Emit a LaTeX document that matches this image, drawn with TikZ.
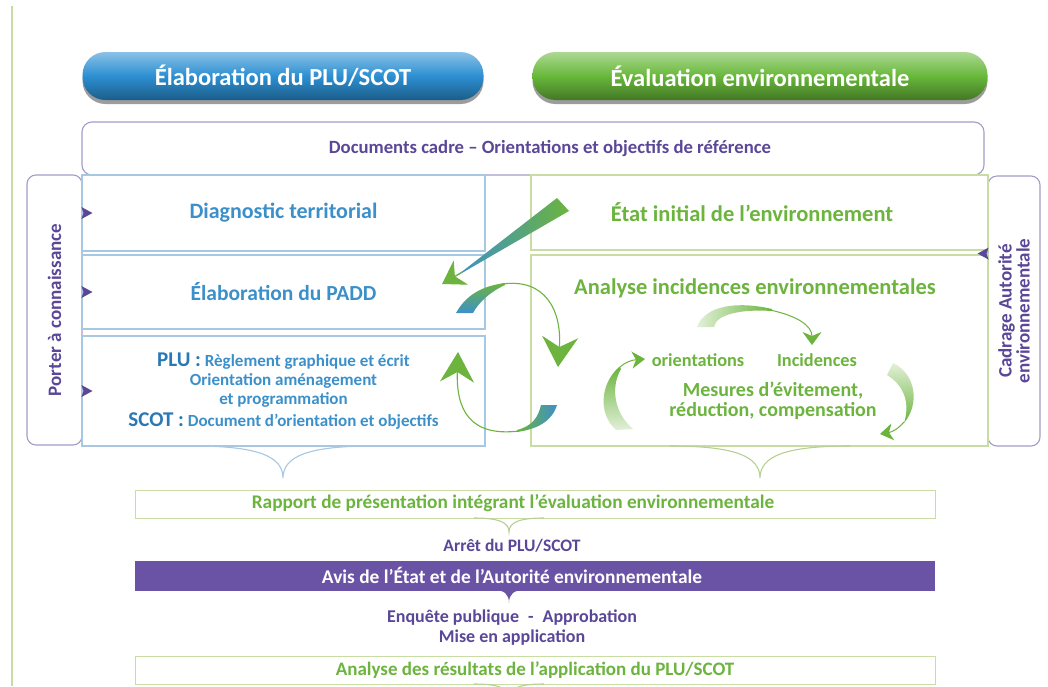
\documentclass[tikz,border=0pt]{standalone}
\usepackage{fontspec}
\setmainfont{Carlito}
\usetikzlibrary{shadows,arrows.meta}

\definecolor{hdblue}{HTML}{2C8FD2}
\definecolor{hdgreen}{HTML}{68B83A}
\definecolor{plublue}{HTML}{3C90CA}
\definecolor{darkblue}{HTML}{2A78B4}
\definecolor{boxblue}{HTML}{A6C8E2}
\definecolor{evgreen}{HTML}{6CB43E}
\definecolor{boxgreen}{HTML}{C9DCA4}
\definecolor{bracegreen}{HTML}{B8D094}
\definecolor{purp}{HTML}{5A4798}
\definecolor{purpline}{HTML}{A39CC8}
\definecolor{barpurp}{HTML}{6A52A5}

\def\Brace#1#2#3#4#5{
    \draw[#5, line width=1.1pt] (#1-#3,#2) .. controls (#1-0.3*#3,#2) and (#1,#2+0.3*#4) .. (#1,#2+#4)
        .. controls (#1,#2+0.3*#4) and (#1+0.3*#3,#2) .. (#1+#3,#2);
}

\tikzset{
    fs/.style n args={2}{font=\fontsize{#1}{#2}\selectfont\bfseries},
    header/.style={rounded corners=23pt, minimum height=48pt, text=white, fs={24.5}{28},
        drop shadow={shadow xshift=0pt, shadow yshift=-4pt, fill=black!70, opacity=.55}},
    lbox/.style={draw=boxblue, line width=1.1pt, minimum width=403pt, inner sep=0pt, text=plublue},
    rbox/.style={draw=boxgreen, line width=1.1pt, minimum width=457pt, inner sep=0pt, text=evgreen},
    side/.style={draw=purpline, line width=1.1pt, rounded corners=9pt, rotate=90,
        minimum width=270pt, text=purp, align=center},
    lowbox/.style={draw=boxgreen, line width=1pt, minimum width=800pt, minimum height=28pt},
    swoosh/.style={draw=evgreen, line width=1.1pt},
}

\begin{document}
\begin{tikzpicture}[x=1pt,y=-1pt]
    \useasboundingbox[fill=white] (0,0) rectangle (1048,686);
    \draw[boxgreen, line width=1.5pt] (12,6) -- (12,686);

    \node[header, minimum width=401pt, top color=hdblue!55!white, bottom color=hdblue!65!black, middle color=hdblue] (hplu) at (283,76) {Élaboration du PLU/SCOT};
    \node[header, minimum width=455pt, top color=hdgreen!55!white, bottom color=hdgreen!65!black, middle color=hdgreen] (heval) at (760,76) {Évaluation environnementale};

    \node[draw=purpline, line width=1.1pt, rounded corners=10pt, minimum width=902pt, minimum height=53pt] (docs) at (533,148.5) {};
    \node[text=purp, fs={18.7}{22}] (docstxt) at (550,148) {Documents cadre – Orientations et objectifs de référence};

    \node[side, minimum height=55pt, fs={19}{22}] (pac) at (54.5,310) {Porter à connaissance};
    \node[side, minimum height=52pt, fs={19}{18}] (cadrage) at (1014,311) {Cadrage Autorité\\environnementale};

    \node[lbox, minimum height=76pt, fs={22}{26}] (diag) at (283.5,213) {Diagnostic territorial};
    \node[lbox, minimum height=74pt, fs={21.5}{26}] (padd) at (283.5,292) {Élaboration du PADD};
    \node[lbox, minimum height=110pt, fs={17}{19}, align=center] (plu) at (283.5,391) {{\color{darkblue}\fontsize{21}{19}\selectfont PLU :} Règlement graphique et écrit\\Orientation aménagement\\et programmation\\[3pt]{\color{darkblue}\fontsize{21}{19}\selectfont SCOT :} Document d’orientation et objectifs};

    \node[rbox, minimum height=75pt] (etat) at (759.5,212.5) {};
    \node[text=evgreen, fs={22.5}{26}] (etattxt) at (752,212) {État initial de l’environnement};
    \node[rbox, minimum height=191pt] (analyse) at (759.5,350.5) {};
    \node[text=evgreen, fs={22.5}{26}] (atitle) at (755,288) {Analyse incidences environnementales};
    \node[text=evgreen, fs={18.3}{21}] (orient) at (698,360) {orientations};
    \node[text=evgreen, fs={18.3}{21}] (incid) at (817,360) {Incidences};
    \node[text=evgreen, fs={20}{19.5}, align=center] (mesures) at (773,401) {Mesures d’évitement,\\réduction, compensation};

    \foreach \n in {diag,padd,plu}
        \fill[purp, shift={(\n.west)}] (0,-6) -- (11,0) -- (0,6) -- (2,0) -- cycle;
    \fill[purp, shift={(etat.south east)}] (0,-3) -- (-11,3) -- (0,9) -- (-2,3) -- cycle;

    \Brace{283}{446}{90}{32}{boxblue}
    \Brace{760}{446}{90}{32}{bracegreen}

    % central swooshes
    \shade[left color=plublue, right color=evgreen] (455,277) -- (557,198) -- (569,211) -- cycle;
    \draw[swoosh, -{Stealth[length=22pt,width=28pt,inset=7pt]}] (462,272) -- (442,284);

    \shade[bottom color=plublue, top color=evgreen] (456,313) .. controls (466,295) and (482,286) .. (505,283) -- (505,285) .. controls (490,292) and (479,302) .. (473,313) -- cycle;
    \draw[swoosh, -{Stealth[length=30pt,width=36pt,inset=10pt]}] (502,284) .. controls (545,278) and (562,310) .. (558,367);

    \shade[right color=plublue, left color=evgreen] (557,405) .. controls (552,421) and (538,429) .. (517,432) -- (517,430) .. controls (532,426) and (538,418) .. (541,405) -- cycle;
    \draw[swoosh, -{Stealth[length=30pt,width=34pt,inset=10pt]}] (519,431) .. controls (470,437) and (456,410) .. (458,352);

    % cycle in the analysis box
    \shade[left color=evgreen!20, right color=evgreen] (697,327) .. controls (705,305) and (738,301) .. (772,309) -- (772,311) .. controls (742,309) and (716,314) .. (714,327) -- cycle;
    \draw[swoosh, line width=1pt, -{Stealth[length=13pt,width=19pt,inset=4pt]}] (770,310) .. controls (798,316) and (812,326) .. (812,345);
    \shade[bottom color=evgreen!20, top color=evgreen] (616,430) .. controls (598,414) and (600,384) .. (619,367) -- (621,369) .. controls (611,386) and (613,412) .. (633,429) -- cycle;
    \draw[swoosh, line width=1pt, -{Stealth[length=13pt,width=17pt,inset=4pt]}] (619,368) .. controls (625,362) and (632,360) .. (645,359);
    \shade[top color=evgreen!20, bottom color=evgreen] (893,363) .. controls (916,374) and (920,404) .. (904,423) .. controls (910,404) and (905,386) .. (887,375) -- cycle;
    \draw[swoosh, line width=1pt, -{Stealth[length=13pt,width=17pt,inset=4pt]}] (904,422) .. controls (898,429) and (892,432) .. (880,434);

    % lower part
    \node[lowbox] (rapport) at (535,504) {};
    \node[text=evgreen, fs={19.3}{22}] (rapporttxt) at (513,503) {Rapport de présentation intégrant l’évaluation environnementale};
    \Brace{509}{518}{35}{14}{bracegreen}
    \node[text=purp, fs={17.5}{20}] (arret) at (512,546) {Arrêt du PLU/SCOT};
    \node[fill=barpurp, minimum width=800pt, minimum height=30pt] (avis) at (535,576) {};
    \node[text=white, fs={19.4}{22}] (avistxt) at (512,575) {Avis de l’État et de l’Autorité environnementale};
    \fill[barpurp] (494,590) .. controls (504,590) and (509,594) .. (509,603) .. controls (509,594) and (514,590) .. (524,590) -- cycle;
    \node[text=purp, fs={18}{20}, align=center] (enquete) at (512,628) {Enquête publique\enspace -\enspace Approbation\\Mise en application};
    \node[lowbox, text=evgreen, fs={19}{22}] (resultats) at (535,670) {Analyse des résultats de l’application du PLU/SCOT};
    \Brace{509}{684}{35}{14}{bracegreen}
\end{tikzpicture}
\end{document}
